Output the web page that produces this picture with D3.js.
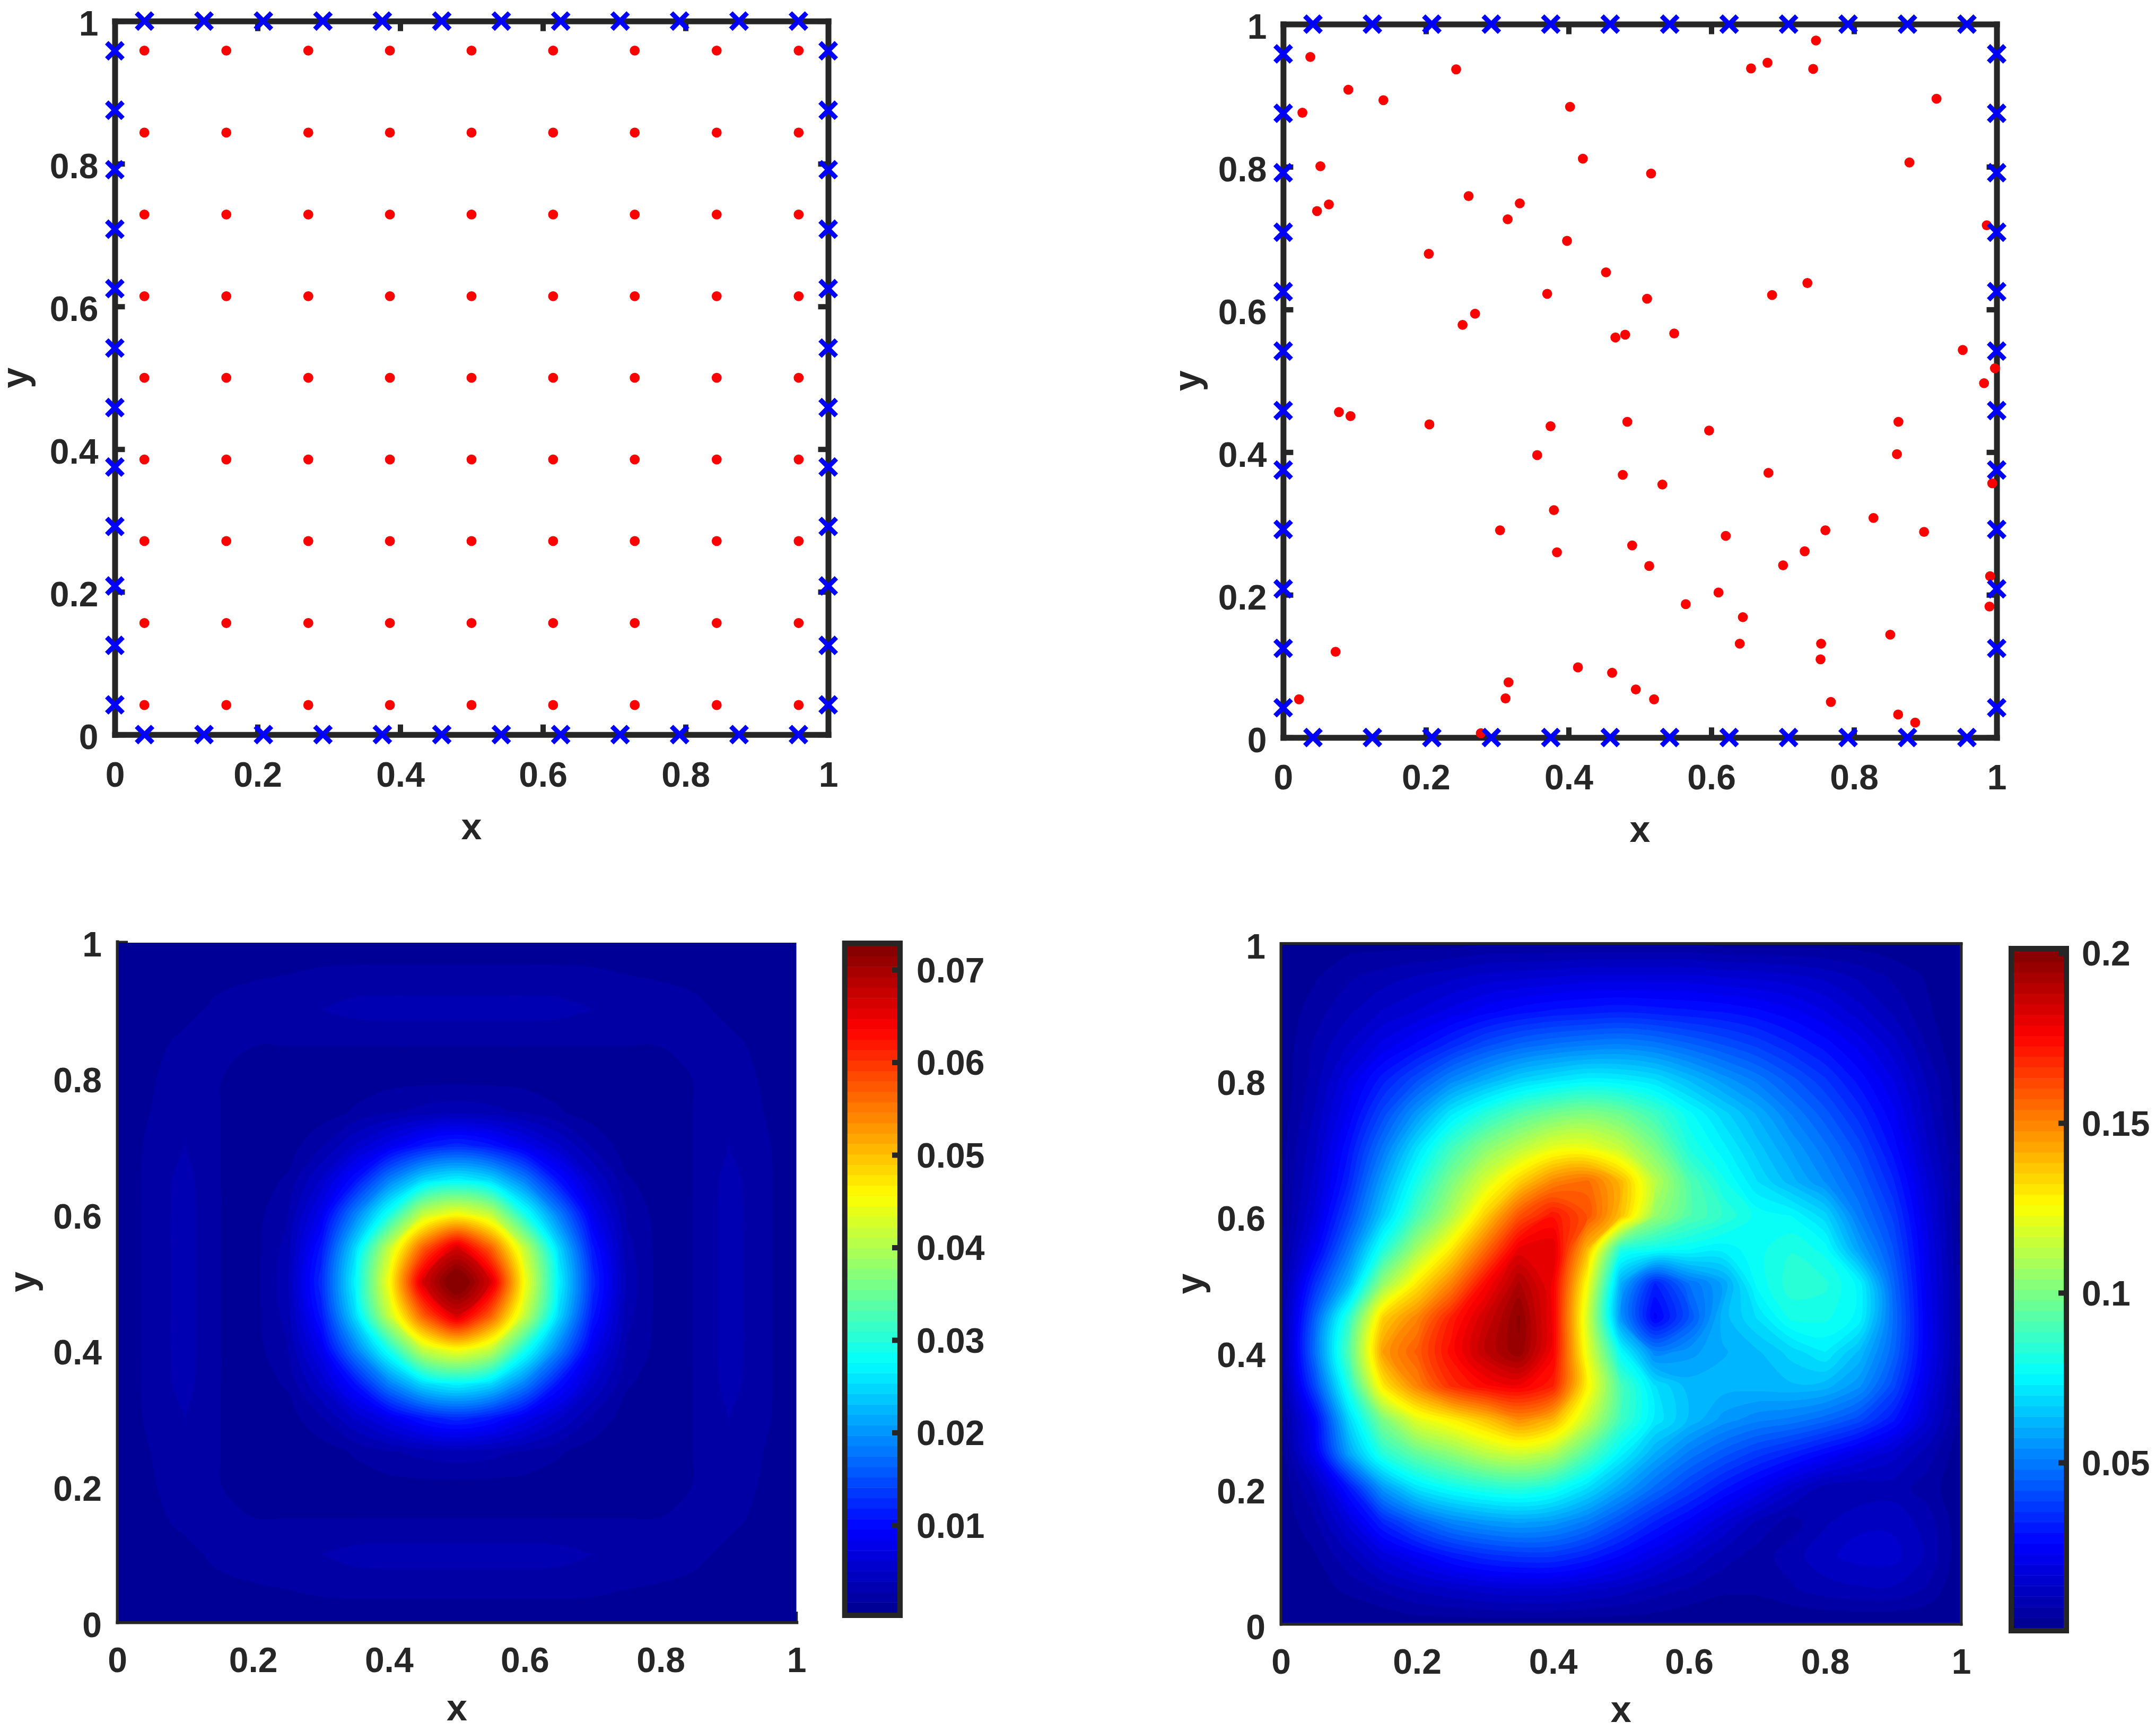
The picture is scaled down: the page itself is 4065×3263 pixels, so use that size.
<!DOCTYPE html>
<html>
<head>
<meta charset="utf-8">
<script src="https://cdn.jsdelivr.net/npm/d3@7"></script>
<style>
body { margin: 0; background: #fff; }
text { font-family: "Liberation Sans", Arial, sans-serif; font-weight: bold; fill: #262626; }
</style>
</head>
<body>
<div id="chart"></div>
<script>

var axisTicks = [0, 0.2, 0.4, 0.6, 0.8, 1];

// boundary collocation points, same list on all four sides
var boundaryPts = [0.0417, 0.125, 0.2083, 0.2917, 0.375, 0.4583, 0.5417, 0.625, 0.7083, 0.7917, 0.875, 0.9583];

// regular interior points (9 x 9)
var gridPts = [0.0414, 0.1563, 0.2712, 0.3856, 0.5, 0.6144, 0.7288, 0.8437, 0.9586];

// scattered interior points
var scatterX = [0.038, 0.2424, 0.0913, 0.1404, 0.0269, 0.402, 0.42, 0.0521, 0.5156, 0.2599, 0.3316, 0.064, 0.0474, 0.3146, 0.3978, 0.204, 0.4524, 0.37, 0.51, 0.2689, 0.2514, 0.4793, 0.4656, 0.548, 0.7467, 0.6788, 0.6557, 0.7428, 0.9157, 0.8777, 0.9861, 0.7347, 0.6852, 0.9524, 0.9976, 0.0781, 0.0943, 0.2049, 0.3747, 0.4823, 0.356, 0.4759, 0.5314, 0.3794, 0.3039, 0.3837, 0.4891, 0.513, 0.5642, 0.0734, 0.4131, 0.461, 0.3158, 0.4942, 0.3116, 0.5198, 0.0222, 0.277, 0.9823, 0.8623, 0.5969, 0.8602, 0.6801, 0.9938, 0.8273, 0.7599, 0.8982, 0.6203, 0.7309, 0.7006, 0.9908, 0.6101, 0.9899, 0.6442, 0.6399, 0.7539, 0.8508, 0.7531, 0.7676, 0.8619, 0.8858];
var scatterY = [0.954, 0.9366, 0.908, 0.8934, 0.8758, 0.8841, 0.8114, 0.8008, 0.7905, 0.759, 0.7487, 0.7473, 0.738, 0.7264, 0.6962, 0.678, 0.652, 0.622, 0.615, 0.594, 0.5784, 0.5647, 0.5607, 0.5664, 0.9771, 0.9459, 0.9379, 0.9372, 0.8954, 0.8061, 0.7181, 0.6371, 0.6202, 0.5432, 0.5176, 0.4562, 0.4505, 0.4389, 0.4363, 0.4426, 0.3958, 0.3682, 0.3546, 0.3187, 0.2905, 0.2596, 0.2693, 0.2404, 0.1869, 0.1202, 0.0983, 0.0907, 0.0774, 0.0674, 0.0548, 0.0535, 0.0535, 0.006, 0.4967, 0.4426, 0.4303, 0.3971, 0.3709, 0.3563, 0.3078, 0.2905, 0.2882, 0.2826, 0.261, 0.2414, 0.2261, 0.2032, 0.1836, 0.1687, 0.1315, 0.1315, 0.1441, 0.1096, 0.0498, 0.0322, 0.0209];

// solution on the regular points, sampled every 0.05, top row first, units of 1e-4
var fieldLeft = [
	[1,2,3,4,5,6,7,7,7,7,7,7,7,7,7,6,5,4,3,2,1],
	[2,5,7,11,15,17,20,21,21,21,21,21,21,21,20,17,15,11,7,5,2],
	[3,7,11,22,25,27,28,32,33,33,33,33,33,32,28,27,25,22,11,7,3],
	[4,11,22,18,17,17,17,17,17,17,17,17,17,17,17,17,17,18,22,11,4],
	[5,15,25,17,13,11,11,11,12,12,12,12,12,11,11,11,13,17,25,15,5],
	[6,17,27,17,11,9,11,18,26,32,35,32,26,18,11,9,11,17,27,17,6],
	[7,20,28,17,11,11,26,52,80,110,125,110,80,52,26,11,11,17,28,20,7],
	[7,21,32,17,11,18,52,105,185,248,270,248,185,105,52,18,11,17,32,21,7],
	[7,21,33,17,12,26,80,185,290,412,450,412,290,185,80,26,12,17,33,21,7],
	[7,21,33,17,12,32,110,248,412,570,665,570,412,248,110,32,12,17,33,21,7],
	[7,21,33,17,12,35,125,270,450,665,745,665,450,270,125,35,12,17,33,21,7],
	[7,21,33,17,12,32,110,248,412,570,665,570,412,248,110,32,12,17,33,21,7],
	[7,21,33,17,12,26,80,185,290,412,450,412,290,185,80,26,12,17,33,21,7],
	[7,21,32,17,11,18,52,105,185,248,270,248,185,105,52,18,11,17,32,21,7],
	[7,20,28,17,11,11,26,52,80,110,125,110,80,52,26,11,11,17,28,20,7],
	[6,17,27,17,11,9,11,18,26,32,35,32,26,18,11,9,11,17,27,17,6],
	[5,15,25,17,13,11,11,11,12,12,12,12,12,11,11,11,13,17,25,15,5],
	[4,11,22,18,17,17,17,17,17,17,17,17,17,17,17,17,17,18,22,11,4],
	[3,7,11,22,25,27,28,32,33,33,33,33,33,32,28,27,25,22,11,7,3],
	[2,5,7,11,15,17,20,21,21,21,21,21,21,21,20,17,15,11,7,5,2],
	[1,2,3,4,5,6,7,7,7,7,7,7,7,7,7,6,5,4,3,2,1]
];

// solution on the scattered points, top row first, units of 1e-3
var fieldRight = [
	[1,2,3,3,3,3,4,4,4,4,4,4,4,3,3,3,3,3,2,2,1],
	[1,4,7,9,11,13,15,16,17,18,18,18,18,17,16,15,13,10,7,4,1],
	[2,6,10,14,17,21,25,28,30,31,32,31,30,29,27,24,20,15,10,5,1],
	[2,8,14,21,27,34,41,46,49,51,52,50,46,42,38,33,28,22,15,7,1],
	[2,9,20,31,41,52,60,67,71,74,73,70,63,56,50,43,36,28,20,10,2],
	[2,11,24,40,56,72,83,92,98,101,97,88,77,68,60,51,43,34,24,12,2],
	[3,13,29,49,70,88,102,112,121,122,114,100,82,74,65,57,49,40,28,14,3],
	[3,15,33,58,80,100,118,135,150,155,140,112,92,80,70,62,54,45,33,17,3],
	[3,18,40,66,90,110,135,160,172,160,138,105,92,85,78,76,68,50,38,19,3],
	[4,24,50,82,108,130,155,180,182,140,82,78,76,74,78,82,78,58,42,21,3],
	[5,35,62,105,130,150,175,192,178,125,60,32,48,58,77,84,83,75,46,22,4],
	[5,45,85,135,150,170,185,198,178,118,55,25,42,62,70,80,80,75,48,23,4],
	[5,48,92,145,158,174,188,197,177,122,76,52,56,60,63,68,73,63,46,23,4],
	[4,40,82,130,150,167,175,178,170,128,90,70,62,62,62,63,62,55,40,20,3],
	[3,26,68,100,120,128,137,148,140,115,88,72,63,56,52,50,46,40,30,16,3],
	[2,22,58,83,95,103,112,116,110,92,74,60,50,43,37,32,26,20,15,9,2],
	[2,11,30,56,71,78,82,84,80,70,58,47,38,30,23,15,9,8,9,6,2],
	[2,7,18,33,44,52,56,58,56,50,41,32,25,17,10,6,10,13,13,9,2],
	[1,4,10,18,24,30,34,36,36,32,26,20,14,9,6,9,13,15,15,10,2],
	[1,3,5,8,11,13,15,16,16,14,12,9,7,5,5,7,9,10,10,7,1],
	[1,1,1,1,2,2,2,2,2,2,2,2,1,1,1,1,1,1,1,1,1]
];

var cbarTicksLeft = [0.01, 0.02, 0.03, 0.04, 0.05, 0.06, 0.07];
var cbarTicksRight = [0.05, 0.1, 0.15, 0.2];

var nBands = 64;

var jet = d3.scaleLinear()
	.domain([0, 0.125, 0.375, 0.625, 0.875, 1])
	.range(["#00008f", "#0000ff", "#00ffff", "#ffff00", "#ff0000", "#800000"]);

function bandColor(k) { return jet((k + 0.5) / nBands); }

var fmt = function(d) { return String(d); };
var ink = "#262626";

var svg = d3.select("#chart").append("svg")
	.attr("width", 4065).attr("height", 3263);

function addAxes(p, lineW, tickW, tickLen, padX, padY) {

	var x = d3.scaleLinear().domain([0, 1]).range([p.left, p.right]);
	var y = d3.scaleLinear().domain([0, 1]).range([p.bottom, p.top]);
	var g = svg.append("g");

	function put(axis, tx, ty, labels) {
		var a = g.append("g")
		.attr("transform", "translate(" + tx + "," + ty + ")")
		.call(axis.tickValues(axisTicks).tickSizeOuter(0).tickSizeInner(-tickLen)
				.tickFormat(labels ? fmt : ""));
		a.select(".domain").attr("stroke", ink).attr("stroke-width", lineW)
		.attr("stroke-linecap", "square");
		a.selectAll(".tick line").attr("stroke", ink).attr("stroke-width", tickW);
		a.selectAll("text").style("font-size", "66px");
		a.attr("font-family", null).attr("font-size", null);
		return a;
	}

	put(d3.axisBottom(x).tickPadding(padX), 0, p.bottom, true);
	put(d3.axisLeft(y).tickPadding(padY), p.left, 0, true)
	.selectAll("text").attr("transform", "translate(0," + p.yLabelShift + ")");
	if (p.box) {
		put(d3.axisTop(x), 0, p.top, false);
		put(d3.axisRight(y), p.right, 0, false);
	}

	svg.append("text").attr("x", (p.left + p.right) / 2).attr("y", p.xLabelY)
	.attr("text-anchor", "middle").style("font-size", "70px").text("x");

	svg.append("text")
	.attr("transform", "translate(" + p.yLabelX + "," + (p.top + p.bottom) / 2 + ") rotate(-90)")
	.attr("text-anchor", "middle").style("font-size", "70px").text("y");

	return { x: x, y: y };
}

function addPoints(s, px, py) {

	var marks = svg.append("g");

	marks.selectAll("circle").data(d3.range(px.length)).enter().append("circle")
	.attr("cx", function(i) { return s.x(px[i]); })
	.attr("cy", function(i) { return s.y(py[i]); })
	.attr("r", 9.4)
	.attr("fill", "#ff0000");

	var sides = [];
	boundaryPts.forEach(function(t) {
		sides.push([t, 0], [t, 1], [0, t], [1, t]);
	});

	marks.selectAll("path").data(sides).enter().append("path")
	.attr("d", d3.symbol(d3.symbolTimes, 613))
	.attr("transform", function(d) { return "translate(" + s.x(d[0]) + "," + s.y(d[1]) + ")"; })
	.attr("stroke", "#0000ff").attr("stroke-width", 9).attr("fill", "none");
}

function addField(id, s, rows, unit, lo, hi, inner) {

	var n = rows.length;
	var values = d3.merge(rows).map(function(v) { return v * unit; });
	var step = (hi - lo) / nBands;
	var thresholds = d3.range(1, nBands).map(function(k) { return lo + k * step; });

	var contours = d3.contours().size([n, n]).thresholds(thresholds)(values);

	// d3.contours puts a sample at index + 0.5
	var cx = d3.scaleLinear().domain([0.5, n - 0.5]).range([0, 1]);
	var cy = d3.scaleLinear().domain([0.5, n - 0.5]).range([1, 0]);

	var ring = d3.line()
	.x(function(d) { return s.x(cx(d[0])); })
	.y(function(d) { return s.y(cy(d[1])); })
	.curve(d3.curveCatmullRomClosed);

	svg.append("clipPath").attr("id", id)
	.append("rect")
	.attr("x", inner.left).attr("y", inner.top)
	.attr("width", inner.right - inner.left).attr("height", inner.bottom - inner.top);

	var g = svg.append("g").attr("clip-path", "url(#" + id + ")");

	g.append("rect")
	.attr("x", inner.left).attr("y", inner.top)
	.attr("width", inner.right - inner.left).attr("height", inner.bottom - inner.top)
	.attr("fill", bandColor(0));

	g.selectAll("path").data(contours).enter().append("path")
	.attr("fill-rule", "evenodd")
	.attr("fill", function(d, i) { return bandColor(i + 1); })
	.attr("d", function(d) {
		var out = "";
		d.coordinates.forEach(function(poly) {
			poly.forEach(function(r) { out += ring(r.slice(0, -1)); });
		});
		return out;
	});
}

function addFrame(p, w) {
	svg.append("rect")
	.attr("x", p.left).attr("y", p.top)
	.attr("width", p.right - p.left).attr("height", p.bottom - p.top)
	.attr("fill", "none").attr("stroke", ink).attr("stroke-width", w);
}

function addColorbar(c, ticks, pad) {

	var inTop = c.top + 5, inBottom = c.bottom - 5;
	var band = d3.scaleBand().domain(d3.range(nBands)).range([inBottom, inTop]);
	var v = d3.scaleLinear().domain([c.lo, c.hi]).range([inBottom, inTop]);

	svg.append("g").selectAll("rect").data(d3.range(nBands)).enter().append("rect")
	.attr("x", c.left).attr("width", c.right - c.left)
	.attr("y", function(k) { return band(k); })
	.attr("height", band.bandwidth() + 0.5)
	.attr("fill", bandColor);

	var a = svg.append("g")
	.attr("transform", "translate(" + c.right + ",0)")
	.call(d3.axisRight(v).tickValues(ticks).tickSizeOuter(0).tickSizeInner(-15)
			.tickPadding(pad).tickFormat(fmt));
	a.select(".domain").remove();
	a.selectAll(".tick line").attr("stroke", ink).attr("stroke-width", 10);
	a.selectAll("text").style("font-size", "66px").attr("transform", "translate(0,2)");
	a.attr("font-family", null).attr("font-size", null);

	svg.append("rect")
	.attr("x", c.left).attr("y", c.top)
	.attr("width", c.right - c.left).attr("height", c.bottom - c.top)
	.attr("fill", "none").attr("stroke", ink).attr("stroke-width", 10);
}

// top left, regular points
var s1 = addAxes({ left: 216.5, right: 1561.5, top: 39.7, bottom: 1384.7, box: true, xLabelY: 1582, yLabelX: 52, yLabelShift: 6 },
		11, 10, 19, 51, 31);
addPoints(s1,
		d3.merge(gridPts.map(function(px) { return gridPts.map(function() { return px; }); })),
		d3.merge(gridPts.map(function() { return gridPts; })));

// top right, scattered points
var s2 = addAxes({ left: 2419.4, right: 3764.6, top: 45.5, bottom: 1390.2, box: true, xLabelY: 1587, yLabelX: 2262, yLabelShift: 6 },
		11, 10, 19, 51, 31);
addPoints(s2, scatterX, scatterY);

// bottom left, solution on regular points
var s3 = addAxes({ left: 221, right: 1501.7, top: 1775, bottom: 3058, box: false, xLabelY: 3243, yLabelX: 66, yLabelShift: 6 },
		6, 4, 20, 47, 29);
addField("clipLeft", s3, fieldLeft, 1e-4, 0.00054, 0.07258, { left: 224, right: 1501.7, top: 1777, bottom: 3056 });
addColorbar({ left: 1592.7, right: 1697, top: 1778, bottom: 3045, lo: 0.00054, hi: 0.07258 }, cbarTicksLeft, 31);

// bottom right, solution on scattered points
var s4 = addAxes({ left: 2415, right: 3697.5, top: 1778.4, bottom: 3061.5, box: true, xLabelY: 3246, yLabelX: 2267, yLabelShift: 7 },
		5, 4, 20, 47, 29);
addField("clipRight", s4, fieldRight, 1e-3, 0.00125, 0.2006, { left: 2415, right: 3697.5, top: 1778.4, bottom: 3061.5 });
addFrame({ left: 2415, right: 3697.5, top: 1778.4, bottom: 3061.5 }, 5);
addColorbar({ left: 3792, right: 3896, top: 1788, bottom: 3074, lo: 0.00125, hi: 0.2006 }, cbarTicksRight, 29);

</script>
</body>
</html>
